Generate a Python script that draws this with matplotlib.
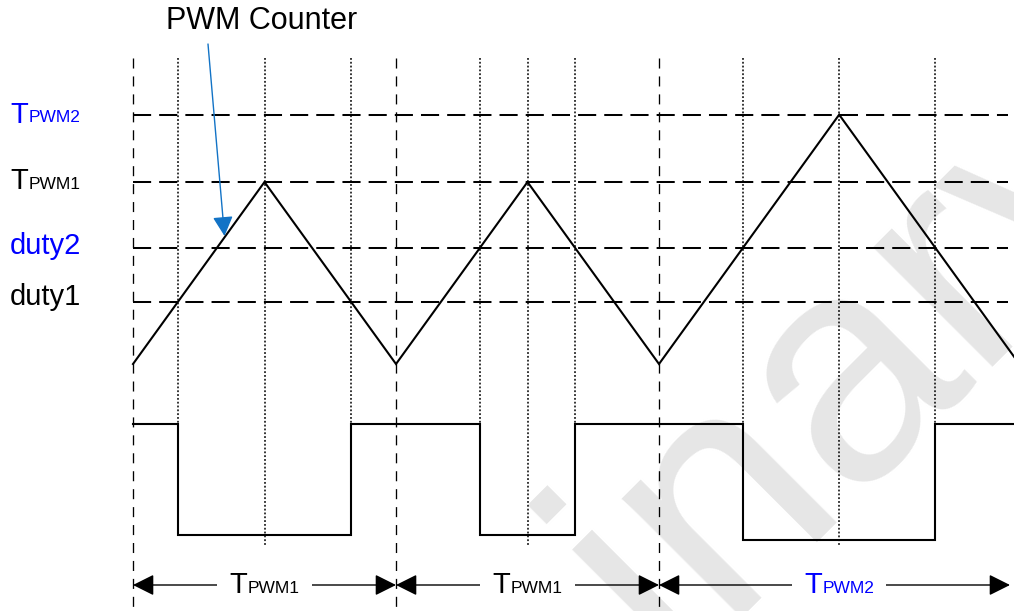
import matplotlib
matplotlib.use("Agg")
import matplotlib.pyplot as plt
from matplotlib.offsetbox import TextArea, HPacker, AnnotationBbox

plt.rcParams['font.family'] = ['Liberation Sans', 'DejaVu Sans']

# ---------------- data ----------------
# one entry per PWM period: counter top value (TPWM) and compare value (duty)
period_top_names = ['PWM1', 'PWM1', 'PWM2']
period_tops = [100, 100, 137]
period_duty = [34, 64, 64]
period_colors = ['black', 'black', '#0000ff']

# reference levels drawn as dashed horizontal lines
level_main = ['T', 'T', 'duty2', 'duty1']
level_sub = ['PWM2', 'PWM1', '', '']
level_values = [137, 100, 64, 34]
level_colors = ['#0000ff', 'black', '#0000ff', 'black']

# ---------------- layout (pixel frame of the 1014x611 picture) ----------------
W, H = 1014, 611
PX_X0, PX_PER_T = 133.0, 1.315      # time axis origin / scale
PX_Y0, PX_PER_C = 364.0, 1.82       # counter axis origin / scale


def t_of(px):
    return (px - PX_X0) / PX_PER_T


def c_of(py):
    return (PX_Y0 - py) / PX_PER_C


GRID_TOP = c_of(58)
GRID_RIGHT = t_of(1008)
PEAK_DOT_BOTTOM = c_of(546)
OUT_HIGH = c_of(424)
OUT_LOW = [c_of(535), c_of(535), c_of(540)]
ARROW_Y = c_of(585)
ARROW_RIGHT = t_of(1010)
LABEL_X = t_of(10)
LABEL_BASE_PX = [8, 7, 6, 3]        # baseline below the dashed line (px)

BIG, SMALL = 21, 12.5
DASH_H = (0, (9.0, 4.0))
DASH_V = (0, (7.6, 6.0))
DOT = (0, (1.2, 1.3))

fig = plt.figure(figsize=(W / 100, H / 100), dpi=100)
ax = fig.add_axes([0, 0, 1, 1])
ax.set_xlim(t_of(0), t_of(W))
ax.set_ylim(c_of(H), c_of(0))
ax.axis('off')

# watermark
ax.text(t_of(594), c_of(739), 'Preliminary', rotation=45, rotation_mode='anchor',
        ha='center', va='baseline', fontsize=230, color='#e6e6e6', zorder=0)

# period boundaries
starts = []
s = 0
for top in period_tops:
    starts.append(s)
    s += 2 * top
ends = [st + 2 * top for st, top in zip(starts, period_tops)]

# horizontal dashed reference lines
for v in level_values:
    ax.plot([0, GRID_RIGHT], [v, v], color='black', lw=1.45, ls=DASH_H,
            dash_capstyle='butt', zorder=2)

# vertical dashed period boundaries
for st in starts:
    ax.plot([st, st], [GRID_TOP, c_of(H)], color='black', lw=0.95, ls=DASH_V,
            dash_capstyle='butt', zorder=2)

# dotted verticals: compare matches and counter peaks
for st, top, d in zip(starts, period_tops, period_duty):
    for tx in (st + d, st + 2 * top - d):
        ax.plot([tx, tx], [GRID_TOP, OUT_HIGH], color='black', lw=1.1, ls=DOT,
                zorder=2)
    ax.plot([st + top, st + top], [GRID_TOP, PEAK_DOT_BOTTOM], color='black',
            lw=1.1, ls=DOT, zorder=2)

# PWM counter (triangle)
ct, cv = [0], [0]
for st, top in zip(starts, period_tops):
    ct += [st + top, st + 2 * top]
    cv += [top, 0]
ax.plot(ct, cv, color='black', lw=1.5, solid_joinstyle='miter', zorder=3)

# PWM output
ox, oy = [0], [OUT_HIGH]
for st, top, d, low in zip(starts, period_tops, period_duty, OUT_LOW):
    a, b = st + d, st + 2 * top - d
    ox += [a, a, b, b]
    oy += [OUT_HIGH, low, low, OUT_HIGH]
ox.append(t_of(W))
oy.append(OUT_HIGH)
ax.plot(ox, oy, color='black', lw=1.5, solid_joinstyle='miter', zorder=3)


def label_box(sub, color):
    big = TextArea('T', textprops=dict(fontsize=BIG, color=color))
    small = TextArea(sub, textprops=dict(fontsize=SMALL, color=color))
    return HPacker(children=[big, small], align='baseline', pad=0, sep=0.5)


# period dimension arrows
for st, e, name, col in zip(starts, ends, period_top_names, period_colors):
    e_vis = min(e, ARROW_RIGHT)
    ax.annotate('', xy=(st, ARROW_Y), xytext=(e_vis, ARROW_Y),
                arrowprops=dict(arrowstyle='<|-|>,head_length=1.3,head_width=0.65',
                                color='black', lw=1.0, shrinkA=0, shrinkB=0,
                                mutation_scale=10),
                zorder=4)
    ab = AnnotationBbox(label_box(name, col), ((st + e) / 2, ARROW_Y),
                        frameon=True, pad=0.85, box_alignment=(0.5, 0.5),
                        bboxprops=dict(fc='white', ec='none'), zorder=5)
    ax.add_artist(ab)

# left labels
for main, sub, v, col, off in zip(level_main, level_sub, level_values,
                                  level_colors, LABEL_BASE_PX):
    tmain = ax.annotate(main, xy=(LABEL_X, v), xytext=(0, -off * 0.72),
                        textcoords='offset points', fontsize=BIG, color=col,
                        ha='left', va='baseline')
    if sub:
        ax.annotate(sub, xy=(1, 0), xycoords=tmain, xytext=(0.5, 0.212 * BIG),
                    textcoords='offset points', fontsize=SMALL, color=col,
                    ha='left', va='baseline')

# PWM Counter callout
ax.text(t_of(262), c_of(29), 'PWM Counter', fontsize=22, ha='center',
        va='baseline', color='black')
ax.annotate('', xy=(t_of(224.5), c_of(236)), xytext=(t_of(208), c_of(44)),
            arrowprops=dict(arrowstyle='-|>,head_length=1.2,head_width=0.62',
                            color='#1273c6', lw=1.0, shrinkA=0, shrinkB=0,
                            mutation_scale=10),
            zorder=6)

fig.savefig('out.png', dpi=100)
